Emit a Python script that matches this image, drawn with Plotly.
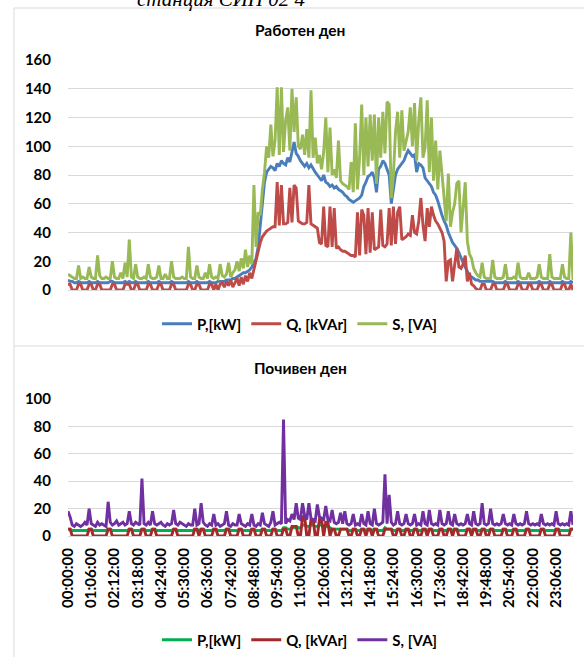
import plotly.graph_objects as go

# Sampling step of the logged data, minutes (one point every 6 min over 24 h)
STEP_MIN = 6

# ---- Working day: active, reactive and apparent power ----
P_work = [
    7, 6, 6, 5, 5, 6, 5, 5, 5, 5, 6, 5, 5, 5, 6, 5, 5, 5, 5, 5,
    6, 6, 5, 5, 5, 5, 5, 6, 5, 6, 5, 5, 6, 5, 5, 5, 5, 5, 6, 5,
    5, 5, 5, 6, 5, 5, 5, 5, 5, 6, 5, 5, 5, 5, 5, 5, 5, 6, 5, 5,
    5, 6, 5, 5, 5, 5, 5, 6, 5, 5, 5, 6, 6, 6, 6, 7, 7, 7, 8, 8,
    9, 10, 11, 12, 12, 13, 14, 16, 19, 22, 30, 45, 62, 75, 82, 84, 86, 85, 83, 88,
    86, 90, 88, 87, 92, 89, 96, 103, 95, 93, 90, 88, 86, 88, 85, 87, 84, 82, 80, 78,
    76, 80, 75, 74, 72, 73, 71, 72, 70, 69, 68, 66, 65, 63, 62, 61, 62, 63, 64, 66,
    72, 75, 79, 80, 82, 78, 68, 84, 86, 90, 88, 84, 80, 60, 72, 80, 84, 86, 88, 90,
    94, 97, 95, 93, 94, 82, 88, 87, 85, 78, 76, 74, 72, 68, 66, 62, 56, 52, 48, 45,
    40, 36, 33, 31, 29, 26, 22, 19, 16, 13, 10, 9, 8, 7, 7, 6, 6, 6, 6, 6,
    6, 6, 5, 5, 5, 5, 5, 6, 5, 5, 5, 5, 5, 6, 5, 5, 5, 5, 5, 5,
    5, 5, 5, 6, 5, 5, 5, 5, 6, 5, 5, 5, 5, 5, 6, 5, 5, 5, 6, 5,
]
Q_work = [
    4, 4, 0, 0, 0, 4, 4, 0, 0, 0, 4, 4, 0, 0, 4, 4, 0, 0, 0, 0,
    0, 4, 4, 0, 0, 0, 0, 4, 4, 4, 0, 0, 4, 4, 0, 0, 0, 0, 4, 4,
    0, 0, 0, 4, 4, 0, 0, 0, 0, 4, 4, 0, 0, 0, 0, 0, 0, 4, 4, 0,
    0, 4, 4, 0, 0, 0, 0, 4, 4, 0, 4, 0, 4, 5, 2, 6, 3, 7, 2, 5,
    8, 3, 9, 4, 10, 6, 12, 8, 14, 22, 28, 33, 37, 39, 41, 42, 43, 44, 44, 75,
    45, 73, 46, 46, 47, 71, 47, 73, 71, 48, 47, 46, 46, 47, 73, 46, 45, 44, 43, 33,
    32, 58, 31, 30, 58, 30, 57, 29, 30, 28, 27, 27, 26, 25, 24, 24, 23, 54, 24, 56,
    52, 25, 57, 26, 54, 28, 29, 30, 56, 31, 30, 32, 57, 31, 58, 32, 54, 58, 35, 36,
    37, 39, 38, 52, 40, 39, 48, 64, 45, 34, 57, 44, 58, 52, 48, 46, 43, 40, 34, 6,
    20, 21, 6, 18, 29, 16, 15, 18, 24, 6, 12, 4, 3, 1, 0, 0, 4, 4, 0, 0,
    0, 4, 4, 0, 0, 0, 0, 4, 4, 0, 0, 0, 0, 4, 4, 0, 0, 0, 4, 4,
    0, 0, 0, 4, 4, 0, 0, 0, 4, 4, 0, 0, 0, 0, 4, 4, 0, 0, 4, 0,
]
S_work = [
    11, 10, 9, 8, 8, 17, 8, 9, 8, 8, 16, 9, 8, 8, 24, 10, 8, 8, 9, 8,
    8, 20, 9, 8, 8, 12, 8, 19, 9, 35, 9, 8, 18, 9, 8, 8, 9, 8, 18, 9,
    8, 8, 9, 17, 8, 8, 11, 8, 8, 20, 9, 8, 8, 8, 9, 8, 8, 30, 9, 8,
    8, 17, 9, 8, 8, 12, 8, 18, 9, 8, 9, 8, 18, 10, 9, 11, 19, 9, 12, 14,
    20, 13, 22, 15, 28, 16, 24, 18, 73, 30, 54, 52, 70, 82, 100, 92, 115, 93, 104, 141,
    94, 141, 96, 118, 127, 97, 140, 110, 134, 100, 98, 108, 94, 112, 92, 139, 92, 106, 88, 94,
    84, 96, 120, 82, 113, 80, 84, 78, 104, 76, 74, 73, 72, 70, 89, 68, 116, 70, 92, 129,
    80, 120, 86, 122, 90, 122, 74, 120, 92, 124, 95, 131, 129, 64, 80, 110, 124, 92, 125, 97,
    103, 110, 127, 100, 130, 90, 118, 134, 92, 99, 132, 82, 120, 76, 104, 70, 97, 80, 64, 48,
    81, 44, 54, 60, 74, 76, 40, 55, 75, 34, 25, 22, 15, 12, 10, 9, 19, 9, 8, 8,
    8, 21, 9, 8, 8, 8, 9, 18, 8, 8, 8, 9, 8, 19, 9, 8, 8, 8, 12, 8,
    8, 8, 9, 18, 9, 8, 8, 8, 25, 9, 8, 8, 8, 8, 18, 9, 8, 8, 40, 7,
]

# ---- Day off: active, reactive and apparent power ----
P_rest = [
    5, 5, 4, 4, 4, 4, 4, 4, 4, 4, 5, 5, 4, 4, 4, 4, 4, 4, 4, 5,
    5, 4, 4, 4, 4, 4, 4, 4, 4, 5, 5, 4, 4, 4, 4, 5, 5, 4, 4, 4,
    5, 5, 4, 4, 4, 4, 4, 4, 4, 4, 5, 5, 4, 4, 4, 4, 4, 4, 4, 4,
    5, 5, 4, 5, 5, 4, 4, 4, 4, 5, 5, 4, 4, 4, 4, 5, 5, 4, 4, 4,
    4, 5, 5, 4, 4, 4, 4, 5, 5, 4, 4, 4, 5, 5, 4, 4, 4, 5, 5, 4,
    4, 4, 6, 6, 5, 5, 6, 6, 7, 6, 6, 8, 8, 7, 7, 8, 8, 7, 7, 8,
    8, 7, 7, 7, 6, 5, 5, 5, 5, 5, 5, 5, 5, 4, 4, 5, 5, 4, 4, 5,
    5, 4, 5, 5, 4, 5, 5, 4, 4, 4, 6, 5, 5, 5, 4, 4, 5, 5, 4, 4,
    5, 5, 4, 4, 5, 5, 4, 4, 5, 5, 4, 5, 5, 4, 4, 4, 5, 5, 4, 4,
    5, 5, 4, 5, 5, 4, 4, 4, 4, 5, 5, 4, 5, 5, 4, 4, 5, 5, 4, 4,
    5, 5, 4, 4, 4, 4, 5, 5, 4, 4, 4, 5, 5, 4, 4, 4, 4, 5, 5, 4,
    4, 4, 4, 4, 5, 5, 4, 4, 4, 4, 4, 5, 5, 4, 4, 4, 4, 4, 5, 5,
]
Q_rest = [
    5, 5, 0, 0, 0, 0, 0, 0, 0, 0, 5, 5, 0, 0, 0, 0, 0, 0, 0, 5,
    5, 0, 0, 0, 0, 0, 0, 0, 0, 5, 5, 0, 0, 0, 0, 5, 5, 0, 0, 0,
    5, 5, 0, 0, 0, 0, 0, 0, 0, 0, 5, 5, 0, 0, 0, 0, 0, 0, 0, 0,
    5, 5, 0, 5, 5, 0, 0, 0, 0, 5, 5, 0, 0, 0, 0, 5, 5, 0, 0, 0,
    0, 5, 5, 0, 0, 0, 0, 5, 5, 0, 0, 0, 5, 5, 0, 0, 0, 5, 5, 0,
    0, 0, 5, 5, 0, 0, 7, 7, 7, 0, 0, 14, 14, 0, 0, 12, 12, 0, 0, 12,
    12, 0, 10, 10, 0, 5, 5, 0, 0, 5, 5, 5, 5, 0, 0, 5, 5, 0, 0, 5,
    5, 0, 5, 5, 0, 5, 5, 0, 0, 0, 5, 5, 5, 5, 0, 0, 5, 5, 0, 0,
    5, 5, 0, 0, 5, 5, 0, 0, 5, 5, 0, 5, 5, 0, 0, 0, 5, 5, 0, 0,
    5, 5, 0, 5, 5, 0, 0, 0, 0, 5, 5, 0, 5, 5, 0, 0, 5, 5, 0, 0,
    5, 5, 0, 0, 0, 0, 5, 5, 0, 0, 0, 5, 5, 0, 0, 0, 0, 5, 5, 0,
    0, 0, 0, 0, 5, 5, 0, 0, 0, 0, 0, 5, 5, 0, 0, 0, 0, 0, 5, 5,
]
S_rest = [
    18, 14, 8, 7, 9, 8, 7, 8, 10, 8, 20, 9, 8, 7, 10, 8, 9, 8, 7, 25,
    10, 8, 9, 11, 8, 9, 10, 8, 9, 18, 9, 8, 10, 9, 8, 42, 9, 8, 10, 8,
    18, 9, 8, 9, 10, 8, 7, 9, 8, 9, 19, 9, 8, 10, 9, 8, 7, 9, 8, 8,
    20, 8, 9, 24, 10, 8, 7, 9, 8, 16, 8, 9, 7, 8, 9, 18, 8, 7, 9, 8,
    8, 16, 9, 8, 7, 9, 8, 16, 8, 7, 9, 8, 17, 9, 8, 7, 10, 18, 8, 9,
    10, 9, 85, 9, 12, 11, 16, 12, 24, 13, 12, 24, 15, 12, 24, 13, 12, 11, 23, 14,
    13, 12, 22, 12, 11, 19, 10, 9, 10, 17, 9, 18, 9, 8, 9, 16, 8, 9, 8, 16,
    9, 8, 18, 9, 8, 20, 9, 8, 9, 10, 45, 9, 30, 10, 8, 9, 18, 9, 8, 9,
    16, 9, 8, 9, 16, 8, 9, 8, 18, 9, 8, 19, 9, 8, 9, 8, 19, 9, 8, 9,
    18, 9, 8, 16, 9, 8, 9, 8, 9, 16, 9, 8, 18, 9, 8, 9, 24, 9, 8, 9,
    20, 9, 8, 9, 8, 9, 16, 9, 8, 9, 8, 16, 9, 8, 9, 8, 9, 18, 9, 8,
    9, 8, 9, 8, 16, 9, 8, 9, 8, 9, 8, 18, 9, 8, 9, 8, 9, 8, 18, 8,
]

# Category labels shown under the day-off chart
time_labels = [
    "00:00:00", "01:06:00", "02:12:00", "03:18:00", "04:24:00", "05:30:00",
    "06:36:00", "07:42:00", "08:48:00", "09:54:00", "11:00:00", "12:06:00",
    "13:12:00", "14:18:00", "15:24:00", "16:30:00", "17:36:00", "18:42:00",
    "19:48:00", "20:54:00", "22:00:00", "23:06:00",
]

series_names = ["P,[kW]", "Q, [kVAr]", "S, [VA]"]
work_colors = ["#4A7EBB", "#BE4B48", "#98B954"]
rest_colors = ["#00B050", "#A5292A", "#7030A0"]

for s in (P_work, Q_work, S_work, P_rest, Q_rest, S_rest):
    assert len(s) == 24 * 60 // STEP_MIN

minutes = [i * STEP_MIN for i in range(len(P_work))]
tick_minutes = [int(t[:2]) * 60 + int(t[3:5]) for t in time_labels]

W, H = 584, 657


def fx(px):
    return px / W


def fy(px):
    return 1 - px / H


FONT = "Lato, 'Noto Sans', sans-serif"
bold = dict(family=FONT, size=15, color="#000000", weight="bold")
GRID = "#D9D9D9"
CLEAR = "rgba(0,0,0,0)"
LW = 2.9

fig = go.Figure()
for name, vals, col in zip(series_names, (P_work, Q_work, S_work), work_colors):
    fig.add_trace(go.Scatter(x=minutes, y=vals, name=name, mode="lines",
                             line=dict(color=col, width=LW),
                             xaxis="x", yaxis="y", legend="legend"))
for name, vals, col in zip(series_names, (P_rest, Q_rest, S_rest), rest_colors):
    fig.add_trace(go.Scatter(x=minutes, y=vals, name=name, mode="lines",
                             line=dict(color=col, width=LW),
                             xaxis="x2", yaxis="y2", legend="legend2"))

x_dom = [fx(68), fx(573)]
x_rng = [minutes[0], minutes[-1]]

legend_common = dict(orientation="h", xanchor="center", yanchor="middle",
                     font=bold, bgcolor=CLEAR, itemwidth=30,
                     tracegroupgap=0)

# value axes: invisible ticks push the labels away from the plot area
y_common = dict(dtick=20, showgrid=True, gridcolor=GRID, gridwidth=1,
                zeroline=False, showline=False, ticks="outside", ticklen=13,
                tickcolor=CLEAR, tickfont=bold, automargin=False)

fig.update_layout(
    width=W, height=H,
    margin=dict(l=0, r=0, t=0, b=0, pad=0, autoexpand=False),
    paper_bgcolor="white", plot_bgcolor="white",
    showlegend=True,
    xaxis=dict(domain=x_dom, range=x_rng, anchor="y", showticklabels=False,
               showgrid=False, zeroline=False, showline=True,
               linecolor=GRID, linewidth=1, ticks="", automargin=False),
    yaxis=dict(domain=[fy(290), fy(60)], range=[0, 160], anchor="x",
               **y_common),
    xaxis2=dict(domain=x_dom, range=x_rng, anchor="y2",
                tickvals=tick_minutes, ticktext=time_labels, tickangle=-90,
                tickfont=bold, showgrid=False, zeroline=False,
                showline=True, linecolor=GRID, linewidth=1,
                ticks="outside", ticklen=5, tickcolor=CLEAR,
                automargin=False),
    yaxis2=dict(domain=[fy(536), fy(399)], range=[0, 100], anchor="x2",
                **y_common),
    legend=dict(x=fx(300), y=fy(324), **legend_common),
    legend2=dict(x=fx(300), y=fy(640), **legend_common),
)

# Chart titles
for text, ypx in (("Работен ден", 30), ("Почивен ден", 368)):
    fig.add_annotation(text=text, x=fx(300), y=fy(ypx), xref="paper",
                       yref="paper", showarrow=False, xanchor="center",
                       yanchor="middle",
                       font=dict(family=FONT, size=15.5, color="#000000",
                                 weight="bold"))

# Caption line running above the charts
fig.add_annotation(text="станция СИП 02 4", x=fx(135), y=fy(-1), xref="paper",
                   yref="paper", showarrow=False, xanchor="left",
                   yanchor="middle",
                   font=dict(family="Liberation Serif", size=21,
                             color="#000000", style="italic"))

# Chart frames
line = dict(color=GRID, width=1)
fig.add_shape(type="line", xref="paper", yref="paper", x0=fx(14), x1=fx(14),
              y0=fy(8), y1=0, line=line, layer="below")
fig.add_shape(type="line", xref="paper", yref="paper", x0=fx(14), x1=1,
              y0=fy(8), y1=fy(8), line=line, layer="below")
fig.add_shape(type="line", xref="paper", yref="paper", x0=fx(14), x1=1,
              y0=fy(346), y1=fy(346), line=line, layer="below")

fig.write_html("out.html")
